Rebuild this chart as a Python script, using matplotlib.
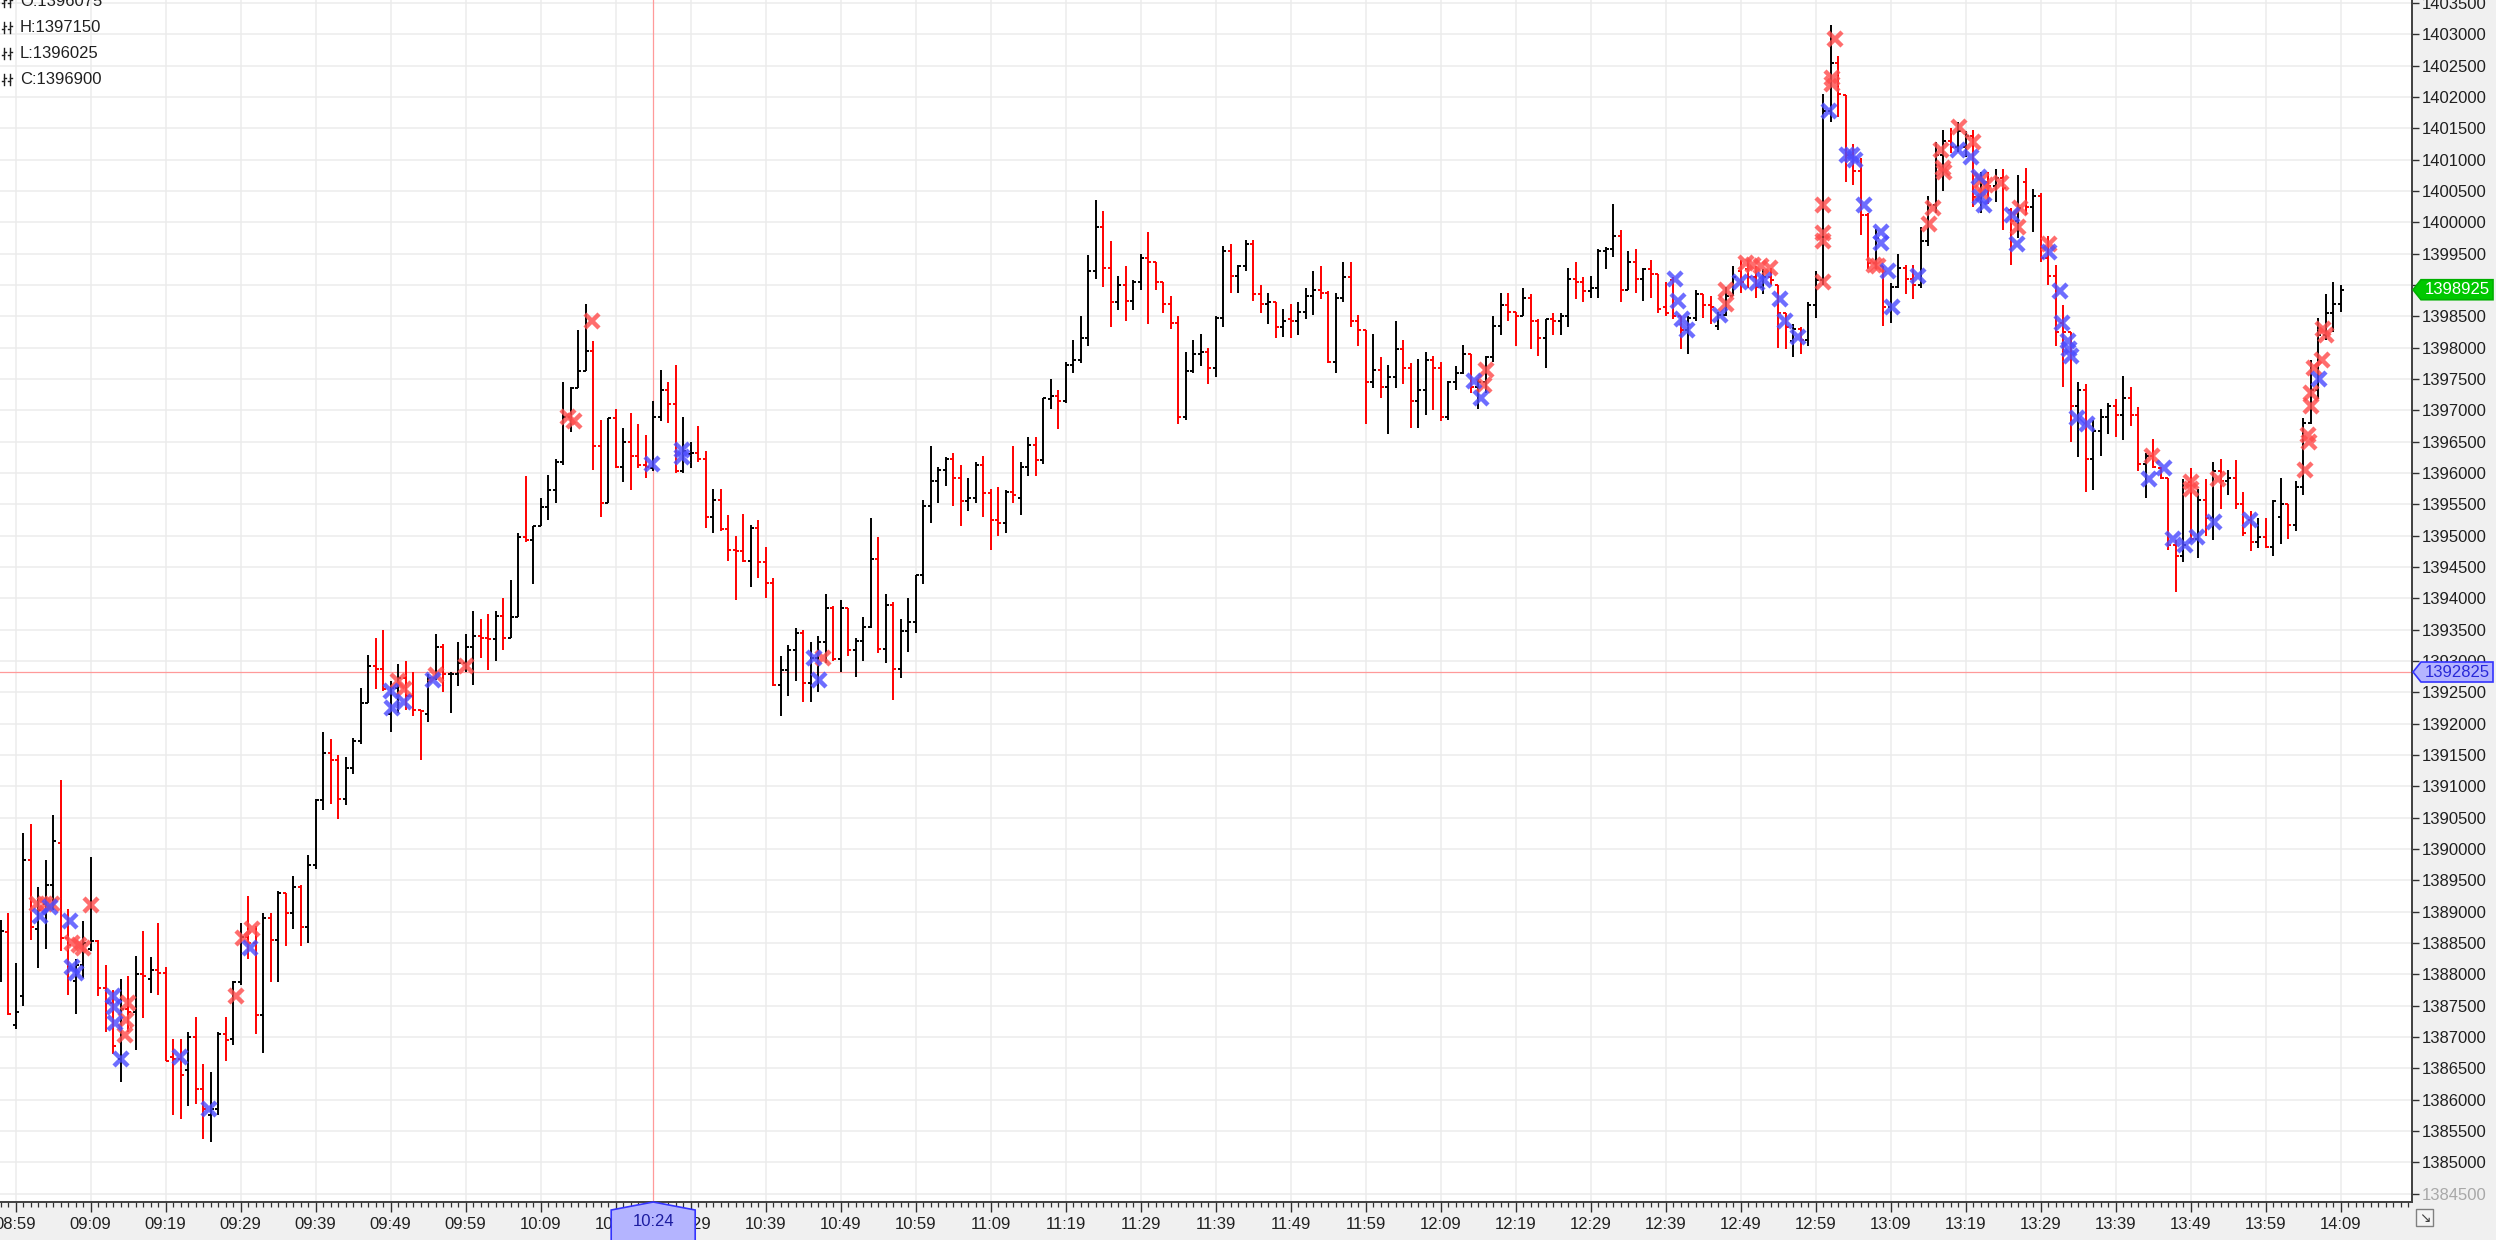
import matplotlib
matplotlib.use("Agg")
import matplotlib.pyplot as plt
import numpy as np
from matplotlib.patches import Polygon, Rectangle
from matplotlib.lines import Line2D
from matplotlib.transforms import IdentityTransform

plt.rcParams['font.family'] = ['Liberation Sans', 'DejaVu Sans']

# ---------------- data (1-minute OHLC bars, minute offset from 08:59; first bar = -2) ----------------
first_offset = -2
opens = [
1387975, 1388675, 1387200, 1387650, 1389825, 1388725, 1389125, 1389425, 1390100, 1388575,
1387900, 1388150, 1388400, 1388525, 1387775, 1387550, 1386650, 1387450, 1387400, 1388000,
1387925, 1388075, 1388025, 1386675, 1386650, 1386475, 1387000, 1386175, 1385750, 1385850,
1387050, 1386975, 1387875, 1388600, 1388500, 1387350, 1388900, 1388550, 1389300, 1388975,
1389400, 1388750, 1389750, 1390775, 1391525, 1391425, 1390800, 1391300, 1391725, 1392325,
1392925, 1392875, 1392150, 1392575, 1392725, 1392450, 1392225, 1392150, 1392725, 1393225,
1392800, 1392800, 1392975, 1393225, 1393400, 1393375, 1393350, 1393725, 1393375, 1393700,
1394975, 1394925, 1395150, 1395450, 1395725, 1396175, 1396900, 1397350, 1397625, 1397950,
1396425, 1395525, 1396875, 1396100, 1396500, 1396275, 1396125, 1396075, 1396900, 1397325,
1397100, 1396025, 1396300, 1396325, 1396225, 1395300, 1395575, 1395100, 1394775, 1394750,
1394600, 1395125, 1394575, 1394250, 1392625, 1392850, 1393175, 1393450, 1392650, 1393050,
1393300, 1393850, 1393025, 1393850, 1393175, 1393325, 1393550, 1394625, 1393200, 1393900,
1392875, 1393475, 1393625, 1394375, 1395475, 1395875, 1396050, 1396225, 1395925, 1395550,
1395600, 1396125, 1395675, 1395250, 1395200, 1395700, 1395600, 1396100, 1396450, 1396200,
1397175, 1397225, 1397150, 1397725, 1397800, 1398150, 1399225, 1399925, 1399275, 1398725,
1399000, 1398750, 1399050, 1399425, 1399375, 1399050, 1398700, 1398400, 1396900, 1397625,
1397900, 1397925, 1397675, 1398475, 1399550, 1399150, 1399300, 1399650, 1398850, 1398700,
1398725, 1398325, 1398450, 1398425, 1398575, 1398825, 1398925, 1398875, 1397775, 1398800,
1399125, 1398425, 1398275, 1397450, 1397650, 1397375, 1397525, 1397975, 1397675, 1397150,
1397325, 1397800, 1397675, 1396900, 1397450, 1397600, 1397900, 1397375, 1397450, 1397850,
1398350, 1398675, 1398575, 1398500, 1398800, 1398425, 1398150, 1398450, 1398425, 1398500,
1399100, 1399050, 1398900, 1398950, 1399550, 1399575, 1399775, 1398925, 1399375, 1399100,
1399250, 1399175, 1398650, 1399075, 1398500, 1398275, 1398475, 1398850, 1398675, 1398350,
1398525, 1398825, 1399225, 1399250, 1399125, 1398975, 1399125, 1399000, 1398550, 1398100,
1398300, 1398125, 1398675, 1399075, 1401775, 1402550, 1402025, 1401075, 1400825, 1400125,
1399350, 1399300, 1398650, 1398975, 1399275, 1399100, 1399000, 1399700, 1400275, 1401075,
1401300, 1401200, 1401200, 1401375, 1400400, 1400650, 1400575, 1400700, 1400200, 1400025,
1400650, 1400250, 1400425, 1399425, 1399150, 1398400, 1398250, 1397075, 1397325, 1396225,
1396675, 1396900, 1397075, 1396925, 1397200, 1396925, 1396150, 1396275, 1396075, 1395925,
1394850, 1394675, 1395850, 1394950, 1395575, 1395275, 1396025, 1395875, 1395925, 1395500,
1395250, 1394900, 1394975, 1394825, 1395300, 1395500, 1395175, 1395775, 1396800, 1397325,
1398200, 1398550, 1398700,
]
highs = [
1388875, 1388975, 1388175, 1390250, 1390400, 1389400, 1389825, 1390550, 1391100, 1389050,
1388250, 1388850, 1389875, 1388550, 1388150, 1387750, 1387925, 1387975, 1388300, 1388700,
1388275, 1388825, 1388125, 1386975, 1386975, 1387075, 1387325, 1386575, 1386450, 1387075,
1387325, 1387900, 1388825, 1389250, 1388775, 1388975, 1388975, 1389325, 1389300, 1389575,
1389425, 1389900, 1390800, 1391875, 1391750, 1391500, 1391475, 1391775, 1392575, 1393100,
1393375, 1393500, 1392675, 1392950, 1393000, 1392825, 1392225, 1392800, 1393425, 1393275,
1392825, 1393300, 1393425, 1393800, 1393675, 1393750, 1393800, 1394000, 1394300, 1395050,
1395950, 1395150, 1395600, 1395975, 1396225, 1397450, 1397375, 1398275, 1398700, 1398100,
1396850, 1396875, 1397025, 1396725, 1396950, 1396775, 1396600, 1397150, 1397650, 1397450,
1397725, 1396900, 1396500, 1396750, 1396350, 1395750, 1395750, 1395325, 1395000, 1395350,
1395175, 1395250, 1394825, 1394325, 1393075, 1393250, 1393525, 1393500, 1393300, 1393400,
1394075, 1393875, 1393975, 1393850, 1393375, 1393700, 1395275, 1394975, 1394075, 1393950,
1393675, 1394000, 1394375, 1395575, 1396425, 1396100, 1396250, 1396325, 1396125, 1395925,
1396175, 1396275, 1395750, 1395775, 1395725, 1396425, 1396175, 1396575, 1396575, 1397200,
1397500, 1397325, 1397775, 1398125, 1398500, 1399475, 1400350, 1400175, 1399700, 1399150,
1399300, 1399075, 1399500, 1399850, 1399375, 1399050, 1398825, 1398500, 1397925, 1398125,
1398225, 1398000, 1398500, 1399625, 1399650, 1399325, 1399725, 1399725, 1399000, 1398875,
1398725, 1398625, 1398700, 1398725, 1398950, 1399225, 1399300, 1398900, 1398875, 1399375,
1399375, 1398525, 1398275, 1398225, 1397850, 1397725, 1398425, 1398125, 1397750, 1397825,
1397925, 1397875, 1397775, 1397475, 1397700, 1398050, 1397900, 1397500, 1397875, 1398500,
1398875, 1398875, 1398575, 1398950, 1398850, 1398450, 1398450, 1398550, 1398550, 1399275,
1399375, 1399125, 1399150, 1399575, 1399600, 1400300, 1399875, 1399550, 1399575, 1399275,
1399400, 1399175, 1399050, 1399125, 1398500, 1398500, 1398925, 1398850, 1398825, 1398575,
1398975, 1399300, 1399400, 1399400, 1399300, 1399250, 1399275, 1399000, 1398550, 1398375,
1398325, 1398725, 1399225, 1402050, 1403150, 1402650, 1402025, 1401250, 1401025, 1400150,
1399900, 1399300, 1399025, 1399500, 1399325, 1399325, 1399925, 1400425, 1401275, 1401475,
1401500, 1401600, 1401450, 1401475, 1400800, 1400800, 1400850, 1400850, 1400225, 1400750,
1400875, 1400525, 1400475, 1399775, 1399325, 1398675, 1398250, 1397450, 1397425, 1396850,
1397025, 1397125, 1397175, 1397550, 1397375, 1397050, 1396325, 1396550, 1396100, 1395925,
1394925, 1395900, 1396075, 1395750, 1395900, 1396175, 1396225, 1396050, 1396200, 1395700,
1395400, 1395275, 1395275, 1395575, 1395925, 1395500, 1395875, 1396875, 1397800, 1398475,
1398850, 1399050, 1399000,
]
lows = [
1387875, 1387350, 1387125, 1387500, 1388550, 1388100, 1388400, 1389025, 1388375, 1387675,
1387375, 1387950, 1388375, 1387650, 1387075, 1386725, 1386275, 1387075, 1386800, 1387300,
1387700, 1387675, 1386625, 1385750, 1385700, 1385900, 1385925, 1385375, 1385325, 1385750,
1386625, 1386875, 1387825, 1388250, 1387050, 1386750, 1387875, 1387875, 1388450, 1388725,
1388450, 1388500, 1389675, 1390625, 1390725, 1390475, 1390700, 1391200, 1391675, 1392325,
1392550, 1392525, 1391875, 1392175, 1392225, 1392125, 1391425, 1392025, 1392700, 1392500,
1392175, 1392600, 1392825, 1392625, 1393050, 1392850, 1393000, 1393175, 1393375, 1393700,
1394900, 1394225, 1395150, 1395250, 1395525, 1396125, 1396650, 1397350, 1397625, 1396050,
1395300, 1395525, 1396075, 1395850, 1395725, 1396075, 1395925, 1396025, 1396825, 1396800,
1396000, 1396000, 1396075, 1396175, 1395125, 1395050, 1395075, 1394600, 1393975, 1394575,
1394175, 1394325, 1394000, 1392600, 1392125, 1392450, 1392675, 1392350, 1392350, 1392500,
1392975, 1393000, 1392825, 1393075, 1392750, 1393000, 1393525, 1393125, 1392975, 1392375,
1392725, 1393150, 1393450, 1394225, 1395200, 1395525, 1395800, 1395475, 1395150, 1395400,
1395525, 1395300, 1394775, 1395000, 1395050, 1395525, 1395325, 1395950, 1395950, 1396150,
1397025, 1396700, 1397125, 1397600, 1397750, 1398025, 1399100, 1398975, 1398325, 1398600,
1398425, 1398600, 1398925, 1398375, 1398925, 1398550, 1398300, 1396775, 1396850, 1397600,
1397700, 1397425, 1397525, 1398325, 1398875, 1398875, 1399225, 1398750, 1398550, 1398375,
1398150, 1398175, 1398150, 1398200, 1398450, 1398525, 1398775, 1397750, 1397600, 1398725,
1398325, 1398025, 1396775, 1397350, 1397200, 1396625, 1397350, 1397425, 1396725, 1396725,
1396925, 1397000, 1396825, 1396850, 1397325, 1397575, 1397275, 1397025, 1397275, 1397775,
1398200, 1398425, 1398025, 1398500, 1397975, 1397875, 1397675, 1398200, 1398200, 1398325,
1398775, 1398725, 1398800, 1398800, 1399250, 1399450, 1398725, 1398925, 1398875, 1398750,
1398800, 1398550, 1398500, 1398450, 1397975, 1397900, 1398425, 1398475, 1398375, 1398275,
1398500, 1398825, 1398875, 1398950, 1398800, 1398850, 1399000, 1398000, 1397975, 1397850,
1397900, 1398025, 1398475, 1399000, 1401600, 1401675, 1400650, 1400600, 1399800, 1399250,
1399250, 1398350, 1398400, 1398950, 1398850, 1398775, 1398950, 1399625, 1400150, 1400500,
1401100, 1401125, 1401050, 1400250, 1400150, 1400300, 1400325, 1399875, 1399325, 1399750,
1400125, 1399850, 1399375, 1399000, 1398025, 1397375, 1396500, 1396250, 1395700, 1395725,
1396275, 1396625, 1396575, 1396525, 1396750, 1396025, 1395600, 1396075, 1395900, 1394775,
1394100, 1394575, 1394925, 1394650, 1395000, 1394925, 1395425, 1395650, 1395425, 1395000,
1394750, 1394800, 1394800, 1394675, 1394875, 1394950, 1395075, 1395650, 1396775, 1397175,
1398125, 1398250, 1398575,
]
closes = [
1388700, 1387375, 1387400, 1389825, 1388750, 1389025, 1389425, 1390125, 1388575, 1388475,
1388150, 1388500, 1388525, 1387775, 1387550, 1386850, 1387450, 1387400, 1388000, 1387975,
1388075, 1388025, 1386625, 1386650, 1386400, 1387000, 1386175, 1385850, 1385850, 1387050,
1386950, 1387875, 1388600, 1388500, 1387350, 1388900, 1388550, 1389300, 1388975, 1389400,
1388750, 1389750, 1390775, 1391525, 1391425, 1390800, 1391300, 1391725, 1392325, 1392925,
1392875, 1392550, 1392575, 1392725, 1392450, 1392225, 1392200, 1392725, 1393225, 1392800,
1392800, 1392975, 1393225, 1393400, 1393375, 1393350, 1393725, 1393375, 1393700, 1394975,
1394925, 1395150, 1395450, 1395725, 1396175, 1396900, 1397350, 1397625, 1397950, 1396425,
1395525, 1396875, 1396100, 1396500, 1396275, 1396125, 1396100, 1396900, 1397325, 1397100,
1396025, 1396350, 1396325, 1396225, 1395300, 1395575, 1395100, 1394775, 1394750, 1394600,
1395125, 1394575, 1394250, 1392625, 1392850, 1393175, 1393450, 1392650, 1393050, 1393300,
1393850, 1393025, 1393850, 1393175, 1393325, 1393550, 1394625, 1393200, 1393900, 1392875,
1393475, 1393625, 1394375, 1395475, 1395875, 1396050, 1396225, 1395925, 1395550, 1395600,
1396125, 1395675, 1395250, 1395200, 1395700, 1395650, 1396100, 1396450, 1396200, 1397200,
1397225, 1397150, 1397725, 1397800, 1398150, 1399225, 1399925, 1399275, 1398725, 1399000,
1398750, 1399050, 1399425, 1399375, 1399050, 1398700, 1398400, 1396900, 1397625, 1397900,
1397925, 1397675, 1398475, 1399550, 1399150, 1399300, 1399650, 1398850, 1398700, 1398725,
1398325, 1398425, 1398425, 1398575, 1398825, 1398925, 1398875, 1397775, 1398800, 1399125,
1398425, 1398275, 1397450, 1397650, 1397375, 1397525, 1397975, 1397675, 1397150, 1397325,
1397800, 1397675, 1396900, 1397450, 1397600, 1397900, 1397375, 1397450, 1397850, 1398350,
1398675, 1398575, 1398500, 1398800, 1398425, 1398150, 1398450, 1398425, 1398500, 1399100,
1399050, 1398900, 1398950, 1399550, 1399575, 1399775, 1398925, 1399375, 1399100, 1399250,
1399175, 1398625, 1398550, 1398500, 1398275, 1398475, 1398850, 1398675, 1398650, 1398525,
1398825, 1399125, 1399050, 1399125, 1398975, 1399125, 1399075, 1398550, 1398325, 1398300,
1398125, 1398675, 1399075, 1401775, 1402550, 1402050, 1401075, 1400825, 1400125, 1399350,
1399750, 1398650, 1398975, 1399275, 1399100, 1399000, 1399700, 1400275, 1401075, 1401300,
1401200, 1401450, 1401375, 1400400, 1400650, 1400575, 1400700, 1400550, 1400025, 1400225,
1400250, 1400425, 1399425, 1399150, 1398250, 1398250, 1397075, 1397325, 1396225, 1396675,
1396900, 1397075, 1396925, 1397200, 1396925, 1396150, 1396275, 1396100, 1395925, 1394850,
1394675, 1394850, 1394950, 1395575, 1395275, 1396025, 1395875, 1395925, 1395500, 1395050,
1394900, 1394975, 1394825, 1395550, 1395500, 1395175, 1395775, 1396800, 1397325, 1398200,
1398550, 1398700, 1398925,
]

# signal markers: (minute offset from 08:59, price)
sell_marks_t = [2.9, 3.9, 4.8, 7.5, 8.4, 9.0, 10.0, 15.0, 14.7, 14.6, 29.4, 30.3, 31.5,
                51.0, 51.8, 56.1, 60.1, 73.6, 74.5, 76.9, 107.7, 196.0, 195.8,
                228.0, 228.1, 230.7, 231.6, 232.7, 233.9,
                241.0, 241.0, 241.0, 241.0, 242.6, 242.2, 242.2, 247.8, 248.3,
                255.1, 255.6, 256.7, 257.0, 257.1, 259.1, 261.0, 262.0, 262.7, 262.2, 264.7,
                267.2, 267.0, 271.1, 284.9, 290.0, 290.0, 293.7,
                305.2, 305.7, 305.8, 306.1, 306.1, 306.4, 307.5, 307.6, 308.0]
sell_marks_p = [1389125, 1389125, 1389125, 1388500, 1388475, 1388425, 1389100, 1387550, 1387275, 1387025,
                1387650, 1388575, 1388725,
                1392675, 1392550, 1392775, 1392925, 1396900, 1396825, 1398425, 1393050, 1397650, 1397400,
                1398700, 1398925, 1399350, 1399325, 1399300, 1399275,
                1400275, 1399825, 1399700, 1399050, 1402925, 1402300, 1402200, 1399325, 1399300,
                1399975, 1400225, 1401150, 1400875, 1400800, 1401525, 1401275, 1400675, 1400600, 1400475, 1400625,
                1400225, 1399925, 1399650, 1396275, 1395850, 1395750, 1395900,
                1396050, 1396600, 1396500, 1397075, 1397275, 1397675, 1397800, 1398300, 1398200]
buy_marks_t = [3.2, 4.6, 7.2, 7.5, 8.1, 13.0, 13.1, 13.2, 14.0, 21.9, 25.8, 31.3,
               50.0, 50.2, 51.8, 55.7, 84.8, 88.9, 88.9, 106.5, 107.1, 194.4, 195.4,
               221.3, 221.6, 222.2, 222.8, 227.3, 229.9, 232.2, 233.1, 235.3, 235.9, 237.6,
               241.8, 244.2, 244.9, 245.3, 246.4, 248.7, 248.7, 249.6, 250.2, 253.7, 259.0, 260.7,
               261.8, 261.9, 262.4, 266.2, 266.9, 271.1, 272.6,
               272.9, 273.6, 273.8, 274.0, 274.9, 276.2, 284.4, 286.4, 287.6, 289.3, 290.9, 293.1,
               297.9, 307.1]
buy_marks_p = [1388925, 1389075, 1388850, 1388125, 1388025, 1387650, 1387475, 1387225, 1386650, 1386675,
               1385850, 1388425,
               1392525, 1392250, 1392350, 1392700, 1396150, 1396375, 1396250, 1393050, 1392700, 1397475, 1397200,
               1399100, 1398750, 1398450, 1398275, 1398525, 1399050, 1399025, 1399075, 1398775, 1398425, 1398175,
               1401775, 1401075, 1401075, 1401000, 1400275, 1399850, 1399675, 1399225, 1398650, 1399150, 1401150, 1401050,
               1400725, 1400400, 1400275, 1400125, 1399650, 1399525, 1398900,
               1398400, 1398100, 1397975, 1397875, 1396875, 1396775, 1395900, 1396075, 1394950, 1394850, 1394975, 1395225,
               1395250, 1397500]

time_labels = ["08:59", "09:09", "09:19", "09:29", "09:39", "09:49", "09:59", "10:09", "10:19", "10:29",
               "10:39", "10:49", "10:59", "11:09", "11:19", "11:29", "11:39", "11:49", "11:59", "12:09",
               "12:19", "12:29", "12:39", "12:49", "12:59", "13:09", "13:19", "13:29", "13:39", "13:49",
               "13:59", "14:09"]

cross_time_offset = 85
cross_time_label = "10:24"
cross_price = 1392825
last_price = 1398925
ohlc_lines = ["O:1396075", "H:1397150", "L:1396025", "C:1396900"]

# ---------------- figure ----------------
W, H = 2496, 1240
fig = plt.figure(figsize=(W / 100, H / 100), dpi=100, facecolor='#f0f0f0')
ax_bottom_px, ax_right_px = 38, 2412
ax = fig.add_axes([0, ax_bottom_px / H, ax_right_px / W, 1 - ax_bottom_px / H])
ax.set_facecolor('white')
ax.set_xlim(-2.09, 319.5)
ax.set_ylim(1384368, 1403548)

o = np.array(opens); h = np.array(highs); l = np.array(lows); c = np.array(closes)
x = np.arange(len(o)) + first_offset
cols = np.where(c >= o, '#000000', '#ff0000')
tick = 0.38
ax.vlines(x, l, h, colors=cols, lw=1.4, zorder=3)
ax.hlines(o, x - tick, x, colors=cols, lw=1.4, zorder=3)
ax.hlines(c, x, x + tick, colors=cols, lw=1.4, zorder=3)

ax.plot(sell_marks_t, sell_marks_p, linestyle='none', marker='x', ms=10.5, mew=3.2,
        color='#ff4d4d', alpha=0.82, zorder=4)
ax.plot(buy_marks_t, buy_marks_p, linestyle='none', marker='x', ms=10.5, mew=3.2,
        color='#4d4dff', alpha=0.82, zorder=4)

# crosshair
ax.axvline(cross_time_offset, color='#ff9a9a', lw=0.9, zorder=2.5)
ax.axhline(cross_price, color='#ff9a9a', lw=0.9, zorder=2.5)

# axes styling
ax.set_axisbelow(True)
ax.set_xticks(np.arange(0, 10 * len(time_labels), 10))
ax.set_xticklabels(time_labels)
ax.set_xticks(np.arange(-2, 320), minor=True)
ax.set_yticks(np.arange(1384500, 1403501, 500))
ax.set_yticklabels([str(v) for v in np.arange(1384500, 1403501, 500)])
ax.yaxis.tick_right()
ax.grid(True, which='major', color='#ececec', lw=1.1)
ax.tick_params(axis='x', which='major', direction='out', length=7, width=1.0,
               color='#303030', labelcolor='#202020', labelsize=12, pad=4)
ax.tick_params(axis='x', which='minor', direction='out', length=3.5, width=0.9, color='#303030')
ax.tick_params(axis='y', which='major', direction='out', length=5, width=1.0,
               color='#303030', labelcolor='#202020', labelsize=12, pad=2,
               right=True, left=False, labelright=True, labelleft=False)
ax.yaxis.get_ticklabels()[0].set_color('#a8a8a8')
for s in ['top', 'left']:
    ax.spines[s].set_visible(False)
for s in ['right', 'bottom']:
    ax.spines[s].set_color('#404040')
    ax.spines[s].set_linewidth(1.4)

ident = IdentityTransform()

def right_tag(price, text, fc, ec, tc):
    yc = ax.transData.transform((0, price))[1]
    x0 = ax.transAxes.transform((1, 0))[0]
    pts = [(x0 + 1, yc), (x0 + 9, yc + 10), (W - 3, yc + 10), (W - 3, yc - 10), (x0 + 9, yc - 10)]
    fig.add_artist(Polygon(pts, closed=True, transform=ident, fc=fc, ec=ec, lw=1.2, zorder=10))
    fig.text((x0 + 9 + W - 3) / 2, yc, text, transform=ident, ha='center', va='center',
             fontsize=12, color=tc, zorder=11)

right_tag(last_price, str(last_price), '#00c800', '#00b000', 'white')
right_tag(cross_price, str(cross_price), '#b4b4ff', '#3434ff', '#2828d8')

# bottom time tag
xc = ax.transData.transform((cross_time_offset, 0))[0]
y0 = ax.transAxes.transform((0, 0))[1]
pts = [(xc, y0), (xc + 42, y0 - 8), (xc + 42, -10), (xc - 42, -10), (xc - 42, y0 - 8)]
fig.add_artist(Polygon(pts, closed=True, transform=ident, fc='#b4b4ff', ec='#3434ff', lw=1.2, zorder=10))
fig.text(xc, y0 - 20, cross_time_label, transform=ident, ha='center', va='center',
         fontsize=12, color='#1c1ca0', zorder=11)

# OHLC readout, top-left
for k, s in enumerate(ohlc_lines):
    yc = H - 1 - 26 * k
    fig.text(20, yc, s, transform=ident, ha='left', va='center', fontsize=12, color='#202020', zorder=11)
    for dx in (4, 10):
        fig.add_artist(Line2D([dx, dx], [yc - 6, yc + 5], transform=ident, color='#202020', lw=1.0, zorder=11))
        fig.add_artist(Line2D([dx - 2, dx], [yc - 2, yc - 2], transform=ident, color='#202020', lw=1.0, zorder=11))
        fig.add_artist(Line2D([dx, dx + 2], [yc + 1, yc + 1], transform=ident, color='#202020', lw=1.0, zorder=11))

# bottom-right corner icon
fig.add_artist(Rectangle((2416, 14), 17, 17, transform=ident, fc='#f4f4f4', ec='#808080', lw=1.0, zorder=10))
fig.text(2424.5, 22.5, '\u2198', transform=ident, ha='center', va='center', fontsize=10,
         color='#404040', family=['DejaVu Sans'], zorder=11)

fig.savefig('out.png', dpi=100, facecolor=fig.get_facecolor())
